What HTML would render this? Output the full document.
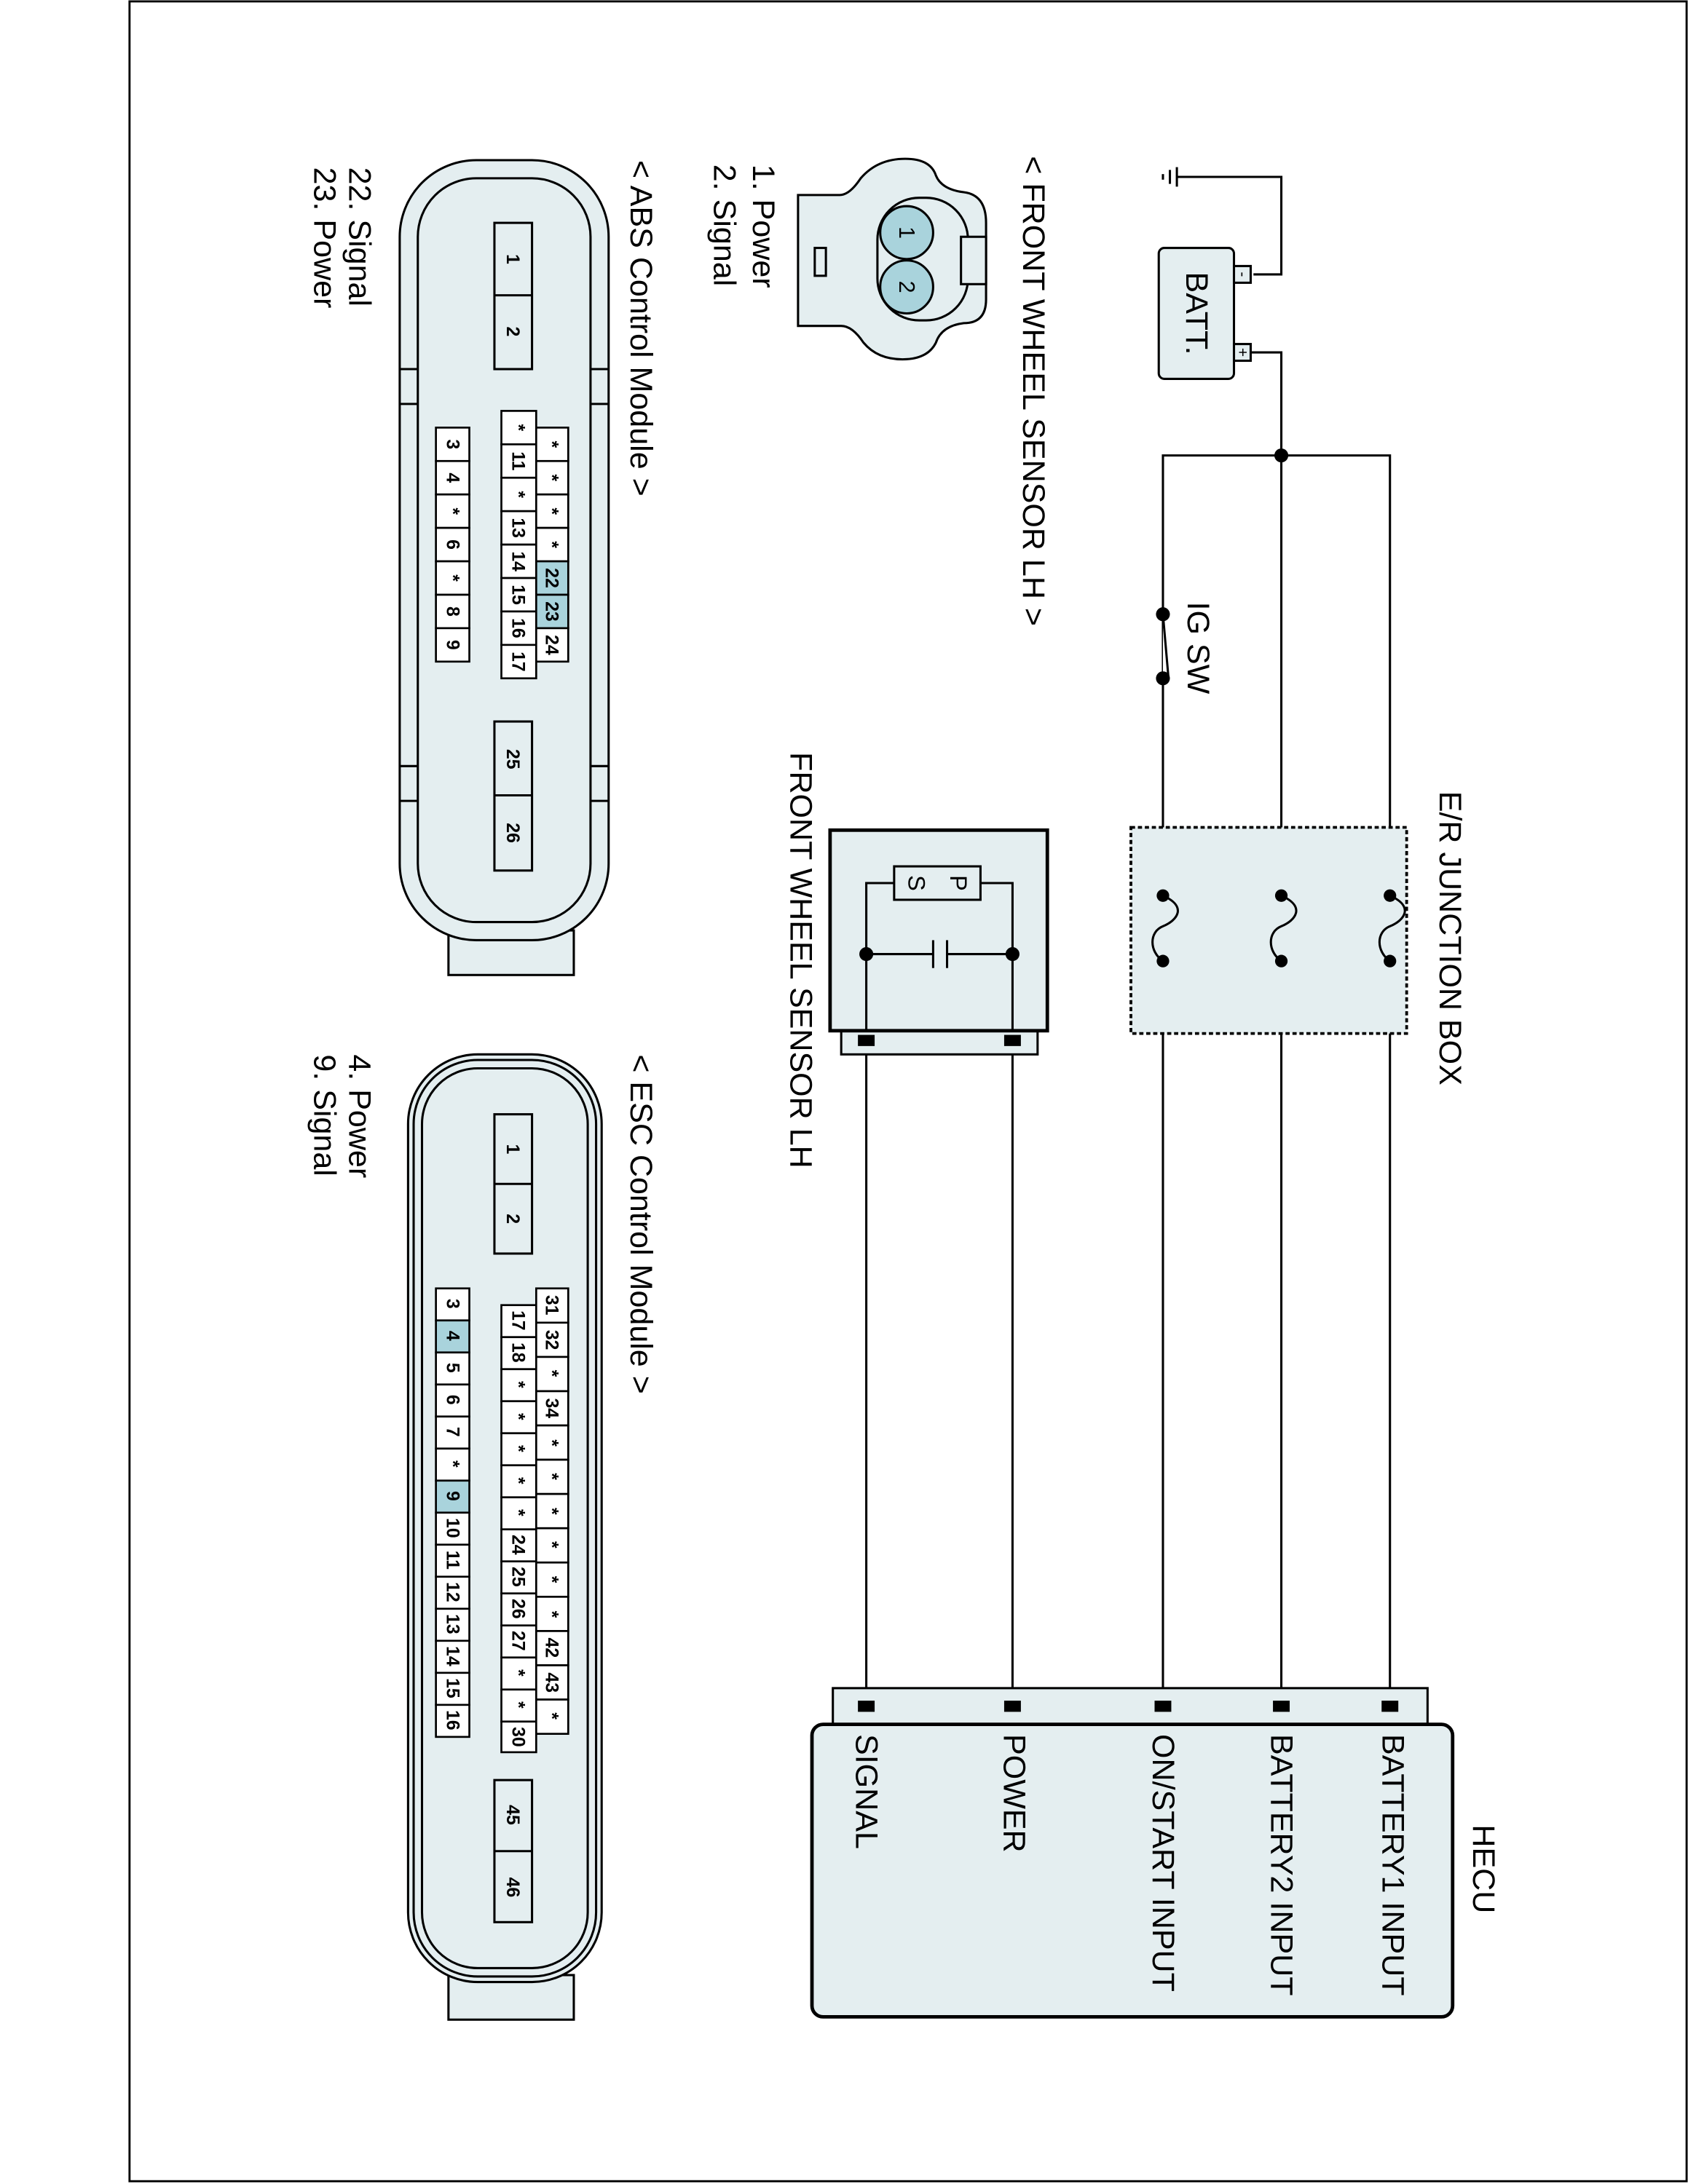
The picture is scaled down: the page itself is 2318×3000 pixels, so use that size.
<!DOCTYPE html>
<html><head><meta charset="utf-8"><style>
html,body{margin:0;padding:0;background:#fff}
svg{display:block}
text{font-family:"Liberation Sans",Arial,sans-serif;fill:#000}
.t{font-size:22.5px}
.p{font-size:13px;font-weight:bold}
</style></head><body>
<svg width="2318" height="3000" viewBox="0 0 1212 1568" preserveAspectRatio="none" xmlns="http://www.w3.org/2000/svg">
<rect x="93" y="1" width="1118" height="1565" fill="none" stroke="#000" stroke-width="1.5"/>
<g stroke="#000" stroke-width="1.6" fill="none">
<polyline points="900,197 920,197 920,127 845,127"/>
<line x1="845" y1="120" x2="845" y2="134"/><line x1="840" y1="122" x2="840" y2="132"/><line x1="835" y1="125" x2="835" y2="129"/>
<rect x="832" y="178" width="54" height="94" rx="4" fill="#e4eef0"/>
<rect x="886" y="191" width="12" height="12" fill="#e4eef0"/>
<rect x="886" y="247" width="12" height="12" fill="#e4eef0"/>
<polyline points="898,253 920,253 920,1225"/>
<polyline points="835,1225 835,327 998,327 998,1225"/>
<rect x="812" y="594" width="198" height="148" fill="#e4eef0" stroke-dasharray="3,2" stroke-width="2"/>
<line x1="622" y1="740" x2="622" y2="1225"/>
<line x1="727" y1="740" x2="727" y2="1225"/>
<path d="M835,643 c18,8 10,18 0,22 c-10,4 -10,18 0,25" fill="none"/>
<path d="M920,643 c18,8 10,18 0,22 c-10,4 -10,18 0,25" fill="none"/>
<path d="M998,643 c18,8 10,18 0,22 c-10,4 -10,18 0,25" fill="none"/>
<rect x="604" y="740" width="141" height="17" fill="#e4eef0"/>
<rect x="596" y="596" width="156" height="144" fill="#e4eef0" stroke-width="2.5"/>
<polyline points="642,634 622,634 622,740"/>
<polyline points="704,634 727,634 727,740"/>
<rect x="642" y="622" width="62" height="24" fill="#e4eef0"/>
<line x1="622" y1="685" x2="670" y2="685"/><line x1="680" y1="685" x2="727" y2="685"/>
<line x1="670" y1="675" x2="670" y2="695"/><line x1="680" y1="675" x2="680" y2="695"/>
<rect x="598" y="1212" width="427" height="26" fill="#e4eef0"/>
<rect x="583" y="1238" width="460" height="210" rx="8" fill="#e4eef0" stroke-width="2.5"/>
<rect x="835" y="441" width="1" height="46" fill="#fff" stroke="none"/>
<line x1="835" y1="441" x2="839" y2="487"/>
</g>
<g fill="#000">
<circle cx="920" cy="327" r="5"/>
<circle cx="835" cy="441" r="5"/><circle cx="835" cy="487" r="5"/>
<circle cx="835" cy="643" r="4.5"/><circle cx="835" cy="690" r="4.5"/>
<circle cx="920" cy="643" r="4.5"/><circle cx="920" cy="690" r="4.5"/>
<circle cx="998" cy="643" r="4.5"/><circle cx="998" cy="690" r="4.5"/>
<circle cx="622" cy="685" r="5"/><circle cx="727" cy="685" r="5"/>
<rect x="616" y="743" width="12" height="8"/><rect x="721" y="743" width="12" height="8"/>
<rect x="616" y="1221" width="12" height="8"/><rect x="721" y="1221" width="12" height="8"/>
<rect x="829" y="1221" width="12" height="8"/><rect x="914" y="1221" width="12" height="8"/>
<rect x="992" y="1221" width="12" height="8"/>
</g>
<g class="t">
<text transform="translate(859,225) rotate(90)" text-anchor="middle" dominant-baseline="central">BATT.</text>
<text transform="translate(892,197) rotate(90)" text-anchor="middle" dominant-baseline="central" style="font-size:11px">-</text>
<text transform="translate(892,253) rotate(90)" text-anchor="middle" dominant-baseline="central" style="font-size:11px">+</text>
<text transform="translate(860,432) rotate(90)" dominant-baseline="central">IG SW</text>
<text transform="translate(1041,568) rotate(90)" dominant-baseline="central">E/R JUNCTION BOX</text>
<text transform="translate(575,540) rotate(90)" dominant-baseline="central">FRONT WHEEL SENSOR LH</text>
<text transform="translate(688,634) rotate(90)" text-anchor="middle" dominant-baseline="central" style="font-size:17px">P</text>
<text transform="translate(658,634) rotate(90)" text-anchor="middle" dominant-baseline="central" style="font-size:17px">S</text>
<text transform="translate(1065,1310) rotate(90)" dominant-baseline="central">HECU</text>
<text transform="translate(1000,1245) rotate(90)" dominant-baseline="central">BATTERY1 INPUT</text>
<text transform="translate(920,1245) rotate(90)" dominant-baseline="central">BATTERY2 INPUT</text>
<text transform="translate(835,1245) rotate(90)" dominant-baseline="central">ON/START INPUT</text>
<text transform="translate(728,1245) rotate(90)" dominant-baseline="central">POWER</text>
<text transform="translate(622,1245) rotate(90)" dominant-baseline="central">SIGNAL</text>
<text transform="translate(742,112) rotate(90)" dominant-baseline="central">&lt; FRONT WHEEL SENSOR LH &gt;</text>
<text transform="translate(548,118) rotate(90)" dominant-baseline="central">1. Power</text>
<text transform="translate(520,118) rotate(90)" dominant-baseline="central">2. Signal</text>
<text transform="translate(460,115) rotate(90)" dominant-baseline="central">&lt; ABS Control Module &gt;</text>
<text transform="translate(258,120) rotate(90)" dominant-baseline="central">22. Signal</text>
<text transform="translate(233,120) rotate(90)" dominant-baseline="central">23. Power</text>
<text transform="translate(460,757) rotate(90)" dominant-baseline="central">&lt; ESC Control Module &gt;</text>
<text transform="translate(258,757) rotate(90)" dominant-baseline="central">4. Power</text>
<text transform="translate(233,757) rotate(90)" dominant-baseline="central">9. Signal</text>
</g>
<g stroke="#000" stroke-width="1.6" fill="#e4eef0">
<path d="M573,140 L603,140 Q610,140 618,128 Q630,114 650,114 Q668,114 672,126 Q676,136 692,138 Q708,140 708,160 L708,215 Q708,232 692,232 Q676,234 672,246 Q666,258 648,258 Q630,258 620,246 Q612,234 604,234 L573,234 Z"/>
<rect x="630" y="142" width="65" height="88" rx="30"/>
<rect x="690" y="170" width="18" height="34"/>
<rect x="585" y="178" width="8" height="20"/>
<circle cx="651" cy="167" r="19" fill="#a9d3dc"/>
<circle cx="651" cy="206" r="19" fill="#a9d3dc"/>
</g>
<text transform="translate(651,167) rotate(90)" text-anchor="middle" dominant-baseline="central" style="font-size:16px">1</text>
<text transform="translate(651,206) rotate(90)" text-anchor="middle" dominant-baseline="central" style="font-size:16px">2</text>
<g stroke="#000" stroke-width="1.6" fill="#e4eef0">
<rect x="322" y="668" width="90" height="32"/>
<rect x="287" y="115" width="150" height="560" rx="55"/>
<rect x="300" y="128" width="124" height="534" rx="42"/>
<line x1="287" y1="265" x2="300" y2="265"/><line x1="287" y1="290" x2="300" y2="290"/>
<line x1="424" y1="265" x2="437" y2="265"/><line x1="424" y1="290" x2="437" y2="290"/>
<line x1="287" y1="550" x2="300" y2="550"/><line x1="287" y1="575" x2="300" y2="575"/>
<line x1="424" y1="550" x2="437" y2="550"/><line x1="424" y1="575" x2="437" y2="575"/>
<rect x="355" y="160" width="27" height="105"/><line x1="355" y1="212" x2="382" y2="212"/>
<rect x="355" y="518" width="27" height="107"/><line x1="355" y1="571" x2="382" y2="571"/>
<rect x="322" y="1418" width="90" height="32"/>
<rect x="293" y="757" width="139" height="666" rx="50"/>
<rect x="297" y="761" width="131" height="658" rx="46"/>
<rect x="303" y="767" width="119" height="646" rx="40"/>
<rect x="355" y="800" width="27" height="100"/><line x1="355" y1="850" x2="382" y2="850"/>
<rect x="355" y="1278" width="27" height="102"/><line x1="355" y1="1329" x2="382" y2="1329"/>
</g>
<g class="p">
<text transform="translate(368,186) rotate(90)" text-anchor="middle" dominant-baseline="central">1</text>
<text transform="translate(368,238) rotate(90)" text-anchor="middle" dominant-baseline="central">2</text>
<text transform="translate(368,545) rotate(90)" text-anchor="middle" dominant-baseline="central">25</text>
<text transform="translate(368,598) rotate(90)" text-anchor="middle" dominant-baseline="central">26</text>
<text transform="translate(368,825) rotate(90)" text-anchor="middle" dominant-baseline="central">1</text>
<text transform="translate(368,875) rotate(90)" text-anchor="middle" dominant-baseline="central">2</text>
<text transform="translate(368,1303) rotate(90)" text-anchor="middle" dominant-baseline="central">45</text>
<text transform="translate(368,1355) rotate(90)" text-anchor="middle" dominant-baseline="central">46</text>
</g>
<g stroke="#000" stroke-width="1.4" fill="#fff">
<rect x="313" y="307" width="24" height="24"/><rect x="313" y="331" width="24" height="24"/><rect x="313" y="355" width="24" height="24"/><rect x="313" y="379" width="24" height="24"/><rect x="313" y="403" width="24" height="24"/><rect x="313" y="427" width="24" height="24"/><rect x="313" y="451" width="24" height="24"/>
<rect x="360" y="295" width="25" height="24"/><rect x="360" y="319" width="25" height="24"/><rect x="360" y="343" width="25" height="24"/><rect x="360" y="367" width="25" height="24"/><rect x="360" y="391" width="25" height="24"/><rect x="360" y="415" width="25" height="24"/><rect x="360" y="439" width="25" height="24"/><rect x="360" y="463" width="25" height="24"/>
<rect x="385" y="307" width="23" height="24"/><rect x="385" y="331" width="23" height="24"/><rect x="385" y="355" width="23" height="24"/><rect x="385" y="379" width="23" height="24"/><rect x="385" y="403" width="23" height="24" fill="#a9d3dc"/><rect x="385" y="427" width="23" height="24" fill="#a9d3dc"/><rect x="385" y="451" width="23" height="24"/>
</g>
<g class="p">
<text transform="translate(325,319) rotate(90)" text-anchor="middle" dominant-baseline="central">3</text>
<text transform="translate(325,343) rotate(90)" text-anchor="middle" dominant-baseline="central">4</text>
<text transform="translate(325,367) rotate(90)" text-anchor="middle" dominant-baseline="central">*</text>
<text transform="translate(325,391) rotate(90)" text-anchor="middle" dominant-baseline="central">6</text>
<text transform="translate(325,415) rotate(90)" text-anchor="middle" dominant-baseline="central">*</text>
<text transform="translate(325,439) rotate(90)" text-anchor="middle" dominant-baseline="central">8</text>
<text transform="translate(325,463) rotate(90)" text-anchor="middle" dominant-baseline="central">9</text>
<text transform="translate(372,307) rotate(90)" text-anchor="middle" dominant-baseline="central">*</text>
<text transform="translate(372,331) rotate(90)" text-anchor="middle" dominant-baseline="central">11</text>
<text transform="translate(372,355) rotate(90)" text-anchor="middle" dominant-baseline="central">*</text>
<text transform="translate(372,379) rotate(90)" text-anchor="middle" dominant-baseline="central">13</text>
<text transform="translate(372,403) rotate(90)" text-anchor="middle" dominant-baseline="central">14</text>
<text transform="translate(372,427) rotate(90)" text-anchor="middle" dominant-baseline="central">15</text>
<text transform="translate(372,451) rotate(90)" text-anchor="middle" dominant-baseline="central">16</text>
<text transform="translate(372,475) rotate(90)" text-anchor="middle" dominant-baseline="central">17</text>
<text transform="translate(396,319) rotate(90)" text-anchor="middle" dominant-baseline="central">*</text>
<text transform="translate(396,343) rotate(90)" text-anchor="middle" dominant-baseline="central">*</text>
<text transform="translate(396,367) rotate(90)" text-anchor="middle" dominant-baseline="central">*</text>
<text transform="translate(396,391) rotate(90)" text-anchor="middle" dominant-baseline="central">*</text>
<text transform="translate(396,415) rotate(90)" text-anchor="middle" dominant-baseline="central">22</text>
<text transform="translate(396,439) rotate(90)" text-anchor="middle" dominant-baseline="central">23</text>
<text transform="translate(396,463) rotate(90)" text-anchor="middle" dominant-baseline="central">24</text>
</g>
<g stroke="#000" stroke-width="1.4" fill="#fff">
<rect x="313" y="925" width="24" height="23"/><rect x="313" y="948" width="24" height="23" fill="#a9d3dc"/><rect x="313" y="971" width="24" height="23"/><rect x="313" y="994" width="24" height="23"/><rect x="313" y="1017" width="24" height="23"/><rect x="313" y="1040" width="24" height="23"/><rect x="313" y="1063" width="24" height="23" fill="#a9d3dc"/><rect x="313" y="1086" width="24" height="23"/><rect x="313" y="1109" width="24" height="23"/><rect x="313" y="1132" width="24" height="23"/><rect x="313" y="1155" width="24" height="23"/><rect x="313" y="1178" width="24" height="23"/><rect x="313" y="1201" width="24" height="23"/><rect x="313" y="1224" width="24" height="23"/>
<rect x="360" y="937" width="25" height="23"/><rect x="360" y="960" width="25" height="23"/><rect x="360" y="983" width="25" height="23"/><rect x="360" y="1006" width="25" height="23"/><rect x="360" y="1029" width="25" height="23"/><rect x="360" y="1052" width="25" height="23"/><rect x="360" y="1075" width="25" height="23"/><rect x="360" y="1098" width="25" height="23"/><rect x="360" y="1121" width="25" height="23"/><rect x="360" y="1144" width="25" height="23"/><rect x="360" y="1167" width="25" height="23"/><rect x="360" y="1190" width="25" height="23"/><rect x="360" y="1213" width="25" height="23"/><rect x="360" y="1236" width="25" height="22"/>
<rect x="385" y="925" width="23" height="24.6"/><rect x="385" y="949.6" width="23" height="24.6"/><rect x="385" y="974.2" width="23" height="24.6"/><rect x="385" y="998.8" width="23" height="24.6"/><rect x="385" y="1023.4" width="23" height="24.6"/><rect x="385" y="1048" width="23" height="24.6"/><rect x="385" y="1072.6" width="23" height="24.6"/><rect x="385" y="1097.2" width="23" height="24.6"/><rect x="385" y="1121.8" width="23" height="24.6"/><rect x="385" y="1146.4" width="23" height="24.6"/><rect x="385" y="1171" width="23" height="24.6"/><rect x="385" y="1195.6" width="23" height="24.6"/><rect x="385" y="1220.2" width="23" height="24.6"/>
</g>
<g class="p">
<text transform="translate(325,936) rotate(90)" text-anchor="middle" dominant-baseline="central">3</text>
<text transform="translate(325,959) rotate(90)" text-anchor="middle" dominant-baseline="central">4</text>
<text transform="translate(325,982) rotate(90)" text-anchor="middle" dominant-baseline="central">5</text>
<text transform="translate(325,1005) rotate(90)" text-anchor="middle" dominant-baseline="central">6</text>
<text transform="translate(325,1028) rotate(90)" text-anchor="middle" dominant-baseline="central">7</text>
<text transform="translate(325,1051) rotate(90)" text-anchor="middle" dominant-baseline="central">*</text>
<text transform="translate(325,1074) rotate(90)" text-anchor="middle" dominant-baseline="central">9</text>
<text transform="translate(325,1097) rotate(90)" text-anchor="middle" dominant-baseline="central">10</text>
<text transform="translate(325,1120) rotate(90)" text-anchor="middle" dominant-baseline="central">11</text>
<text transform="translate(325,1143) rotate(90)" text-anchor="middle" dominant-baseline="central">12</text>
<text transform="translate(325,1166) rotate(90)" text-anchor="middle" dominant-baseline="central">13</text>
<text transform="translate(325,1189) rotate(90)" text-anchor="middle" dominant-baseline="central">14</text>
<text transform="translate(325,1212) rotate(90)" text-anchor="middle" dominant-baseline="central">15</text>
<text transform="translate(325,1235) rotate(90)" text-anchor="middle" dominant-baseline="central">16</text>
<text transform="translate(372,948) rotate(90)" text-anchor="middle" dominant-baseline="central">17</text>
<text transform="translate(372,971) rotate(90)" text-anchor="middle" dominant-baseline="central">18</text>
<text transform="translate(372,994) rotate(90)" text-anchor="middle" dominant-baseline="central">*</text>
<text transform="translate(372,1017) rotate(90)" text-anchor="middle" dominant-baseline="central">*</text>
<text transform="translate(372,1040) rotate(90)" text-anchor="middle" dominant-baseline="central">*</text>
<text transform="translate(372,1063) rotate(90)" text-anchor="middle" dominant-baseline="central">*</text>
<text transform="translate(372,1086) rotate(90)" text-anchor="middle" dominant-baseline="central">*</text>
<text transform="translate(372,1109) rotate(90)" text-anchor="middle" dominant-baseline="central">24</text>
<text transform="translate(372,1132) rotate(90)" text-anchor="middle" dominant-baseline="central">25</text>
<text transform="translate(372,1155) rotate(90)" text-anchor="middle" dominant-baseline="central">26</text>
<text transform="translate(372,1178) rotate(90)" text-anchor="middle" dominant-baseline="central">27</text>
<text transform="translate(372,1201) rotate(90)" text-anchor="middle" dominant-baseline="central">*</text>
<text transform="translate(372,1224) rotate(90)" text-anchor="middle" dominant-baseline="central">*</text>
<text transform="translate(372,1247) rotate(90)" text-anchor="middle" dominant-baseline="central">30</text>
<text transform="translate(396,937) rotate(90)" text-anchor="middle" dominant-baseline="central">31</text>
<text transform="translate(396,962) rotate(90)" text-anchor="middle" dominant-baseline="central">32</text>
<text transform="translate(396,986) rotate(90)" text-anchor="middle" dominant-baseline="central">*</text>
<text transform="translate(396,1011) rotate(90)" text-anchor="middle" dominant-baseline="central">34</text>
<text transform="translate(396,1036) rotate(90)" text-anchor="middle" dominant-baseline="central">*</text>
<text transform="translate(396,1060) rotate(90)" text-anchor="middle" dominant-baseline="central">*</text>
<text transform="translate(396,1085) rotate(90)" text-anchor="middle" dominant-baseline="central">*</text>
<text transform="translate(396,1109) rotate(90)" text-anchor="middle" dominant-baseline="central">*</text>
<text transform="translate(396,1134) rotate(90)" text-anchor="middle" dominant-baseline="central">*</text>
<text transform="translate(396,1159) rotate(90)" text-anchor="middle" dominant-baseline="central">*</text>
<text transform="translate(396,1183) rotate(90)" text-anchor="middle" dominant-baseline="central">42</text>
<text transform="translate(396,1208) rotate(90)" text-anchor="middle" dominant-baseline="central">43</text>
<text transform="translate(396,1232) rotate(90)" text-anchor="middle" dominant-baseline="central">*</text>
</g>
</svg>
</body></html>
